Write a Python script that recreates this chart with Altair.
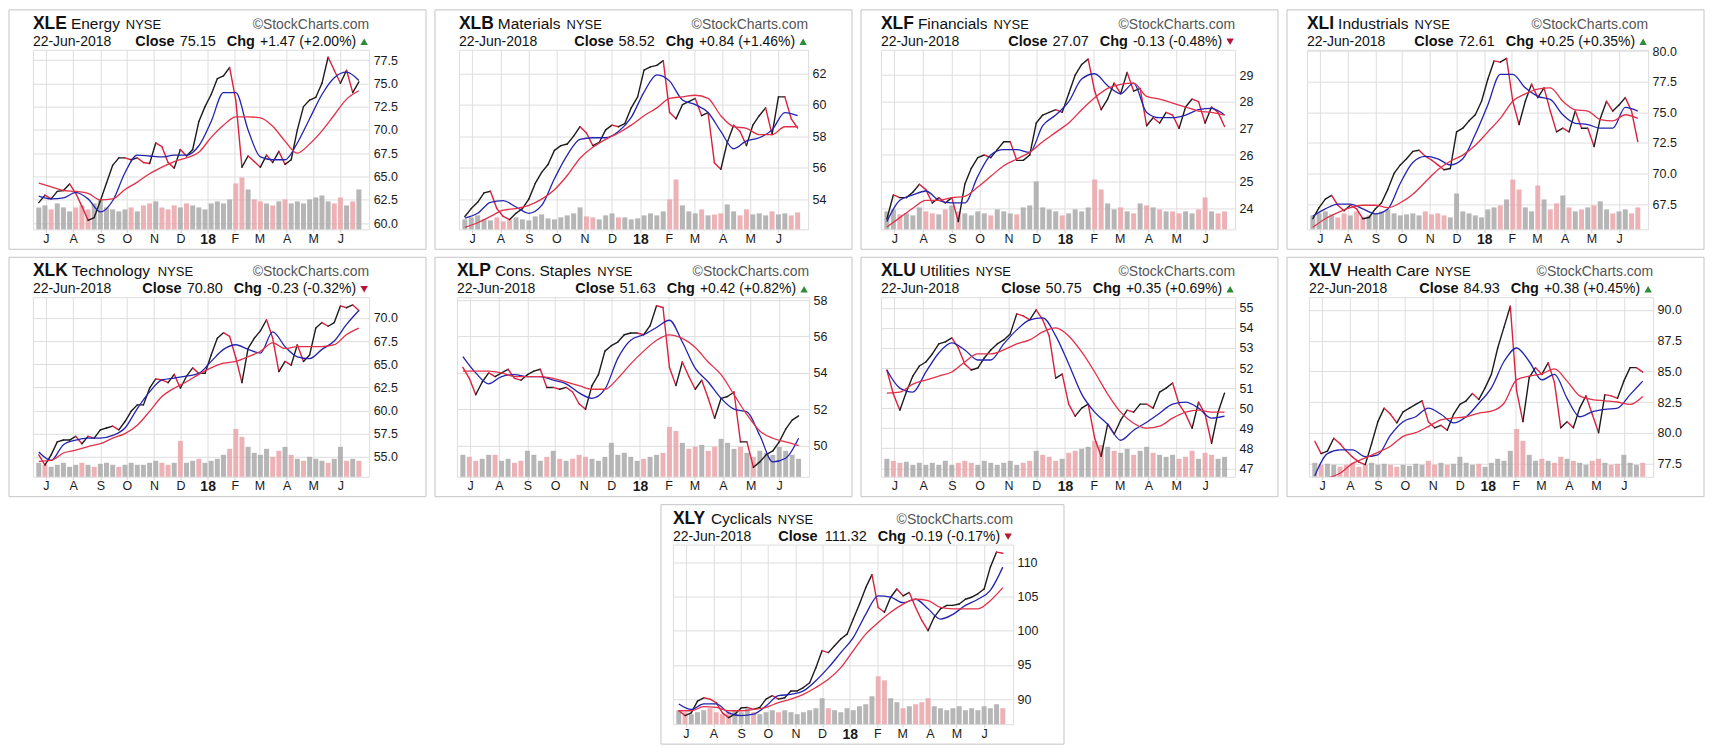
import altair as alt
import pandas as pd

# ---------------- data ----------------
dates = ["2017-06-23","2017-06-30","2017-07-07","2017-07-14","2017-07-21","2017-07-28",
         "2017-08-04","2017-08-11","2017-08-18","2017-08-25","2017-09-01","2017-09-08",
         "2017-09-15","2017-09-22","2017-09-29","2017-10-06","2017-10-13","2017-10-20",
         "2017-10-27","2017-11-03","2017-11-10","2017-11-17","2017-11-24","2017-12-01",
         "2017-12-08","2017-12-15","2017-12-22","2017-12-29","2018-01-05","2018-01-12",
         "2018-01-19","2018-01-26","2018-02-02","2018-02-09","2018-02-16","2018-02-23",
         "2018-03-02","2018-03-09","2018-03-16","2018-03-23","2018-03-30","2018-04-06",
         "2018-04-13","2018-04-20","2018-04-27","2018-05-04","2018-05-11","2018-05-18",
         "2018-05-25","2018-06-01","2018-06-08","2018-06-15","2018-06-22"]
ma_dates = dates[::2]
month_starts = [(2017, 7), (2017, 8), (2017, 9), (2017, 10), (2017, 11), (2017, 12),
                (2018, 1), (2018, 2), (2018, 3), (2018, 4), (2018, 5), (2018, 6)]

tickers = ["XLE", "XLB", "XLF", "XLI", "XLK", "XLP", "XLU", "XLV", "XLY"]
sectors = ["Energy", "Materials", "Financials", "Industrials", "Technology",
           "Cons. Staples", "Utilities", "Health Care", "Cyclicals"]
closes = ["75.15", "58.52", "27.07", "72.61", "70.80", "51.63", "50.75", "84.93", "111.32"]
changes = ["+1.47 (+2.00%)", "+0.84 (+1.46%)", "-0.13 (-0.48%)", "+0.25 (+0.35%)",
           "-0.23 (-0.32%)", "+0.42 (+0.82%)", "+0.35 (+0.69%)", "+0.38 (+0.45%)",
           "-0.19 (-0.17%)"]
change_dirs = ["up", "up", "down", "up", "down", "up", "up", "up", "down"]
date_label = "22-Jun-2018"

price_xle = [62.2,63.0,62.6,63.4,63.5,64.2,63.2,61.8,60.3,60.6,62.4,64.3,66.2,67.0,67.0,66.8,67.0,66.5,
             66.4,68.6,68.2,66.5,65.9,67.9,67.2,67.9,70.9,72.5,73.8,75.5,75.8,76.7,73.2,66.0,67.2,66.6,
             66.0,67.3,66.5,67.7,66.3,66.8,70.0,72.5,73.2,73.5,75.0,77.8,76.4,75.0,76.4,74.0,75.15]
ma20_xle = [62.9,62.6,62.7,63.3,62.6,61.2,62.4,65.4,67.3,67.2,67.1,67.3,67.3,68.3,70.9,74.0,74.0,70.0,
            67.1,66.8,66.8,68.6,71.2,73.8,75.6,76.2,75.3]
ma50_xle = [64.3,63.9,63.5,63.4,63.2,62.5,62.6,63.6,64.4,65.3,66.0,66.6,67.0,67.6,69.2,70.5,71.4,71.4,
            71.3,70.4,68.8,67.5,68.5,69.9,71.6,73.3,74.2]
vol_xle = [22,24,20,26,22,18,22,24,20,26,30,22,20,18,20,22,18,24,26,28,22,20,24,22,26,24,22,20,26,28,
           26,30,46,52,40,30,28,26,24,28,30,26,28,26,30,32,34,28,26,32,24,28,40]

price_xlb = [52.9,53.4,53.8,54.4,54.5,53.4,52.9,52.7,53.1,53.4,54.0,55.0,55.7,56.2,57.1,57.4,57.5,58.0,
             58.6,58.2,57.4,57.6,58.4,58.7,58.6,58.8,59.8,60.5,62.2,62.4,62.5,62.8,59.5,59.1,60.0,60.2,
             60.4,59.3,59.5,56.3,55.9,57.6,58.7,58.3,57.4,58.7,59.3,59.8,58.1,60.5,60.5,59.1,58.52]
ma20_xlb = [52.8,53.1,53.8,53.9,53.5,53.1,53.6,55.3,56.8,57.8,57.9,57.9,58.3,59.2,60.8,61.9,61.5,60.3,
            60.0,59.5,58.3,57.2,57.7,57.9,58.4,59.5,59.3]
ma50_xlb = [52.2,52.5,52.9,53.3,53.4,53.6,54.0,54.6,55.5,56.6,57.3,57.8,58.2,58.7,59.3,59.8,60.4,60.5,
            60.6,60.4,59.3,58.6,58.5,58.1,58.1,58.6,58.6]
vol_xlb = [10,12,14,10,9,12,8,10,12,10,9,13,15,11,10,12,14,16,22,13,12,10,14,16,12,12,10,11,14,16,
           14,18,30,50,24,18,16,20,14,15,16,25,18,14,20,15,16,14,18,15,16,14,17]

price_xlf = [23.6,24.5,24.4,24.4,24.6,24.9,24.7,24.2,24.4,24.2,24.4,23.5,24.9,25.5,25.9,26.0,25.9,26.2,
             26.5,26.5,25.8,25.8,26.0,27.2,27.5,27.6,27.7,27.6,28.3,29.0,29.4,29.6,28.4,27.7,28.1,28.7,
             28.3,29.1,28.4,28.5,27.1,27.4,27.2,27.6,27.5,27.0,27.8,28.1,28.0,27.2,27.8,27.6,27.07]
ma20_xlf = [23.5,24.3,24.5,24.65,24.3,24.2,24.2,25.2,26.0,26.2,26.2,26.1,27.1,27.5,28.0,28.85,29.05,28.6,
            28.3,28.7,27.6,27.4,27.4,27.5,27.7,27.75,27.5]
ma50_xlf = [23.3,23.65,24.0,24.3,24.3,24.4,24.45,24.8,25.2,25.6,25.85,26.1,26.5,26.85,27.2,27.7,28.15,
            28.5,28.65,28.7,28.2,28.1,27.95,27.8,27.65,27.6,27.5]
vol_xlf = [18,20,15,16,14,22,18,16,15,20,24,18,16,14,18,16,14,20,18,16,15,22,24,48,22,20,18,14,16,20,
           18,22,50,40,26,20,22,18,16,26,24,22,20,18,18,16,18,16,20,32,18,16,18]

price_xli = [66.3,67.2,67.9,68.2,67.4,66.95,67.4,67.1,66.3,66.4,67.1,67.6,68.7,70.0,70.7,71.2,71.8,71.9,
             71.4,71.1,70.7,70.3,70.4,73.4,73.7,74.3,74.8,75.9,77.7,79.2,79.1,79.4,75.9,74.0,75.9,77.3,
             76.2,77.0,75.1,73.4,73.7,73.4,75.1,73.7,73.7,72.2,74.5,75.9,75.1,75.6,76.2,75.1,72.61]
ma20_xli = [66.5,67.1,67.5,67.5,67.1,66.7,67.1,69.2,70.9,71.4,71.2,70.7,71.2,73.2,75.6,78.1,78.1,77.0,
            76.3,76.05,74.8,74.1,74.0,73.7,73.7,75.4,75.1]
ma50_xli = [65.6,66.3,66.8,67.2,67.4,67.4,67.2,67.6,68.3,69.3,70.3,71.0,71.5,72.3,73.4,74.5,75.9,76.5,
            76.9,77.0,75.9,75.2,75.1,74.4,74.3,74.8,74.5]
vol_xli = [14,16,18,15,12,16,14,18,12,14,16,18,20,16,14,15,16,14,18,15,16,14,12,36,18,16,14,12,20,22,
           24,30,50,40,22,18,44,30,20,26,34,22,18,20,22,24,28,20,16,18,20,16,22]

price_xlk = [55.2,54.1,55.2,56.6,56.8,56.8,57.2,56.4,57.2,57.0,57.9,58.1,58.3,57.9,58.8,59.9,60.6,60.6,
             62.4,63.4,63.3,63.0,63.9,62.4,63.7,64.6,64.0,64.0,66.0,67.8,68.4,68.0,65.7,63.0,66.7,67.8,
             68.6,69.8,67.8,64.2,65.3,64.9,67.1,65.3,66.0,68.9,69.5,69.1,69.5,71.3,71.1,71.4,70.8]
ma20_xlk = [55.5,54.6,56.3,56.8,57.0,57.0,57.3,58.1,60.2,62.0,63.3,63.5,63.7,64.0,65.3,66.6,67.1,66.6,
            66.2,68.5,66.9,65.8,65.6,66.6,67.5,69.3,70.8]
ma50_xlk = [54.5,54.6,55.4,55.7,56.1,56.4,57.0,57.5,58.4,59.9,61.5,62.4,63.1,63.9,64.6,65.1,65.3,65.8,
            66.4,67.3,66.7,66.9,66.9,66.9,67.1,68.2,68.9]
vol_xlk = [14,12,10,12,14,10,12,14,12,10,13,14,12,10,12,14,12,12,14,16,14,12,14,36,14,16,18,14,16,18,
           22,28,48,40,30,24,22,28,20,26,30,22,18,16,20,18,16,14,18,30,16,18,16]

price_xlp = [54.3,53.7,52.8,53.5,54.0,53.8,54.0,54.2,53.7,53.6,53.9,54.1,54.2,53.2,53.2,53.1,53.2,52.95,
             52.3,52.0,53.3,53.9,55.2,55.5,55.7,56.1,56.2,56.2,56.1,56.6,57.7,57.6,54.3,53.3,54.6,53.8,
             53.1,53.6,52.6,51.5,52.6,52.7,52.95,50.2,50.2,48.8,49.1,49.5,49.7,50.2,50.9,51.4,51.63]
ma20_xlp = [54.9,54.0,53.4,53.8,53.9,53.8,53.8,53.6,53.4,52.9,52.6,53.1,54.8,55.8,56.1,56.5,56.9,55.7,
            54.25,53.5,52.6,52.0,51.85,50.55,49.1,49.3,50.4]
ma50_xlp = [54.1,54.1,54.1,54.0,53.8,53.8,53.8,53.7,53.5,53.3,53.1,53.1,53.7,54.5,55.2,55.8,56.1,55.9,
            55.4,54.6,53.9,52.8,51.7,50.8,50.4,50.2,50.0]
vol_xlp = [22,20,16,18,22,22,16,18,14,16,26,22,16,20,26,18,16,18,22,20,18,16,20,34,22,24,20,16,18,20,
           22,24,50,46,34,28,30,32,26,30,38,34,28,30,24,20,26,24,22,30,26,22,18]

price_xlu = [51.9,50.7,49.9,50.8,51.6,52.1,52.3,52.7,53.2,53.3,53.5,53.0,52.2,51.9,52.0,52.5,52.9,53.2,
             53.4,53.7,54.7,54.6,54.4,54.9,54.4,53.6,51.5,51.7,50.2,49.6,50.0,50.2,48.5,47.6,49.2,48.7,
             49.4,49.9,49.8,50.2,50.2,50.0,50.8,51.0,51.25,50.2,49.7,49.0,50.3,49.7,48.25,49.8,50.75]
ma20_xlu = [51.9,51.0,50.8,51.8,52.75,53.25,52.9,52.4,52.4,53.2,53.9,54.4,54.5,53.6,52.2,50.7,49.8,49.2,
            48.4,48.9,49.3,49.75,50.2,50.3,50.0,49.5,49.6]
ma50_xlu = [50.75,50.8,51.2,51.4,51.6,51.8,52.3,52.7,52.7,52.9,53.2,53.4,53.8,54.0,53.6,52.8,51.8,50.7,
            49.8,49.25,49.0,49.1,49.5,49.8,49.9,49.8,49.8]
vol_xlu = [18,16,14,15,12,14,12,14,12,16,12,14,16,14,12,16,14,12,14,16,12,14,16,26,22,20,16,18,24,26,
           28,30,36,32,30,26,24,28,22,26,30,24,22,20,22,18,20,26,18,24,22,18,20]

price_xlv = [79.3,78.3,78.5,79.55,79.1,78.5,78.0,77.6,77.4,79.1,80.9,82.0,81.5,80.8,81.7,82.0,82.3,82.6,
             80.9,80.4,80.6,80.2,81.5,82.3,82.6,83.2,82.7,83.65,84.75,86.9,88.6,90.3,83.4,80.9,84.5,85.3,
             84.75,85.7,84.1,80.4,80.9,80.4,82.0,83.0,81.5,80.0,83.1,83.0,82.8,84.2,85.3,85.3,84.93]
ma20_xlv = [76.5,78.3,78.6,78.6,78.05,78.2,79.8,80.9,81.3,82.0,81.5,80.8,81.3,82.4,83.65,85.8,86.9,85.8,
            84.3,84.75,82.8,81.3,81.7,81.9,82.0,83.1,84.2]
ma50_xlv = [76.0,76.3,76.7,77.5,77.95,78.4,78.9,79.7,80.0,80.5,81.05,81.2,81.3,81.6,81.75,82.4,84.3,84.6,
            84.8,85.2,84.2,83.0,82.7,82.6,82.5,82.3,82.95]
vol_xlv = [14,12,13,12,10,12,14,10,12,14,12,13,12,10,12,11,13,12,16,12,14,12,13,20,14,12,13,10,14,18,
           16,26,48,36,22,16,18,16,14,20,18,16,14,12,16,18,14,12,13,22,14,12,14]

price_xly = [88.3,87.6,88.0,89.7,90.2,90.0,89.5,88.0,87.3,87.8,88.7,88.8,88.5,88.8,90.0,90.5,90.0,90.2,
             91.2,91.2,91.7,92.4,94.6,97.1,96.8,97.8,98.8,99.5,101.7,103.9,106.3,108.2,103.4,102.7,104.9,
             106.1,105.1,105.6,103.4,101.5,100.0,102.0,103.2,103.7,103.7,103.9,104.6,104.9,105.4,106.1,
             109.3,111.5,111.32]
ma20_xly = [89.3,88.5,89.3,89.3,88.0,87.6,87.8,89.0,90.5,90.7,91.2,92.7,94.6,96.8,99.0,102.4,105.1,104.9,
            104.1,104.6,103.2,101.7,102.4,103.7,104.6,105.9,109.3]
ma50_xly = [88.3,88.3,88.9,88.8,88.3,88.3,88.5,88.8,89.5,90.0,90.7,91.7,92.9,94.6,97.1,99.5,101.2,102.7,
            103.9,104.6,104.4,103.4,103.2,103.2,103.2,104.4,106.3]
vol_xly = [14,12,10,12,14,16,12,10,12,14,12,16,12,10,12,14,12,14,12,10,12,14,16,26,16,14,12,16,14,18,
           20,28,48,44,26,22,16,18,20,22,26,18,16,14,16,18,14,16,14,18,16,20,16]

# price-axis domains and tick labels per panel
ydom_xle, yticks_xle = [59.33, 78.6], [60, 62.5, 65, 67.5, 70, 72.5, 75, 77.5]
ydom_xlb, yticks_xlb = [52.08, 63.49], [54, 56, 58, 60, 62]
ydom_xlf, yticks_xlf = [23.21, 29.95], [24, 25, 26, 27, 28, 29]
ydom_xli, yticks_xli = [65.43, 80.11], [67.5, 70, 72.5, 75, 77.5, 80]
ydom_xlk, yticks_xlk = [52.83, 72.24], [55, 57.5, 60, 62.5, 65, 67.5, 70]
ydom_xlp, yticks_xlp = [48.28, 58.17], [50, 52, 54, 56, 58]
ydom_xlu, yticks_xlu = [46.58, 55.53], [47, 48, 49, 50, 51, 52, 53, 54, 55]
ydom_xlv, yticks_xlv = [76.41, 91.04], [77.5, 80, 82.5, 85, 87.5, 90]
ydom_xly, yticks_xly = [86.34, 112.59], [90, 95, 100, 105, 110]

# ---------------- styling ----------------
FONT = "Liberation Sans"
UP_COL = "#1c1c1c"
DOWN_COL = "#d9203f"
MA_BLUE = "#2323b0"
MA_RED = "#e23049"
VOL_GRAY = "#a9a9a9"
VOL_RED = "#e9a5a9"
GRID = "#dedede"
FRAME = "#aaaaaa"
BORDER = "#c4c4c4"
H = 180

REG = {" ": 278, ".": 278, "-": 333, "+": 584, "(": 333, ")": 333, "%": 889,
       "a": 556, "b": 556, "c": 500, "d": 556, "e": 556, "f": 278, "g": 556, "h": 556,
       "i": 222, "j": 222, "k": 500, "l": 222, "m": 833, "n": 556, "o": 556, "p": 556,
       "q": 556, "r": 333, "s": 500, "t": 278, "u": 556, "v": 500, "w": 722, "x": 500,
       "y": 500, "z": 500, "C": 722, "E": 667, "F": 611, "H": 722, "I": 278, "M": 833,
       "S": 667, "T": 611, "U": 722, "N": 722, "Y": 667}
BOLD = {"X": 667, "L": 611, "E": 667, "B": 722, "F": 611, "I": 278, "K": 722, "P": 667,
        "U": 722, "V": 667, "Y": 667, "C": 722, "h": 611, "g": 611, "l": 278, "o": 611,
        "s": 556, "e": 556}


def tw(s, size, bold=False):
    tbl = BOLD if bold else REG
    return sum(tbl.get(c, 556) for c in s) * size / 1000.0


X_DOMAIN = [alt.DateTime(year=2017, month=6, date=22, utc=True),
            alt.DateTime(year=2018, month=6, date=28, utc=True)]
X_TICKS = [alt.DateTime(year=y, month=m, date=1, utc=True) for y, m in month_starts]

xaxis = alt.Axis(
    values=X_TICKS, title=None, grid=True, gridColor=GRID, domain=False,
    ticks=True, tickSize=3, tickColor="#cfcfcf", labelPadding=0,
    labelAngle=0, labelOverlap=False, labelFlush=False, labelColor="#1a1a1a",
    labelFont=FONT,
    labelExpr="utcmonth(datum.value) == 0 ? '18' : substring(utcFormat(datum.value, '%b'), 0, 1)",
    labelFontWeight={"condition": {"test": "utcmonth(datum.value) == 0", "value": "bold"}, "value": "normal"},
    labelFontSize={"condition": {"test": "utcmonth(datum.value) == 0", "value": 14}, "value": 12.5},
)


def text_layer(one, txt, x, y, size, bold=False, align="left", color="#111111"):
    return alt.Chart(one).mark_text(
        text=txt, align=align, baseline="alphabetic", font=FONT, fontSize=size,
        fontWeight="bold" if bold else "normal", color=color
    ).encode(x=alt.value(x), y=alt.value(y))


def make_panel(i, price, ma20, ma50, vol, ydom, yticks, yfmt, L, W, R):
    n = len(dates)
    dirs = ["up"] + ["down" if price[k] < price[k - 1] else "up" for k in range(1, n)]
    base = pd.DataFrame({"date": dates, "vol": vol, "dir": dirs})
    seg = pd.DataFrame({"date": dates[:-1], "date2": dates[1:],
                        "y": price[:-1], "y2": price[1:], "dir": dirs[1:]})
    ma = pd.DataFrame({"date": ma_dates, "ma20": ma20, "ma50": ma50})
    one = pd.DataFrame({"k": [0]})

    xs = alt.Scale(type="utc", domain=X_DOMAIN)
    X = alt.X("date:T", scale=xs, axis=xaxis)
    ys = alt.Scale(domain=ydom, zero=False, nice=False)
    yaxis = alt.Axis(orient="right", values=yticks, format=yfmt, title=None, grid=True,
                     gridColor=GRID, domain=False, ticks=False, tickSize=0, labelPadding=4,
                     labelFontSize=12.5, labelFont=FONT, labelColor="#1a1a1a")

    border = alt.Chart(one).mark_rect(fillOpacity=0, stroke=BORDER, strokeWidth=1).encode(
        x=alt.value(-L), x2=alt.value(W + R), y=alt.value(-40), y2=alt.value(H + 20))

    vols = alt.Chart(base).mark_bar(width=5, opacity=0.85).encode(
        x=X,
        y=alt.Y("vol:Q", scale=alt.Scale(domain=[0, H]), axis=None),
        color=alt.condition("datum.dir == 'down'", alt.value(VOL_RED), alt.value(VOL_GRAY)))

    segs = alt.Chart(seg).mark_rule(strokeWidth=1.4, strokeCap="round").encode(
        x=X, x2=alt.X2("date2:T"),
        y=alt.Y("y:Q", scale=ys, axis=yaxis), y2=alt.Y2("y2:Q"),
        color=alt.condition("datum.dir == 'down'", alt.value(DOWN_COL), alt.value(UP_COL)))

    blue = alt.Chart(ma).mark_line(color=MA_BLUE, strokeWidth=1.3, clip=True,
                                   interpolate="monotone").encode(
        x=X, y=alt.Y("ma20:Q", scale=ys, axis=None))
    red = alt.Chart(ma).mark_line(color=MA_RED, strokeWidth=1.3, clip=True,
                                  interpolate="monotone").encode(
        x=X, y=alt.Y("ma50:Q", scale=ys, axis=None))

    tk, sec = tickers[i], sectors[i]
    x_sec = tw(tk, 17.5, True) + 4
    x_ny = x_sec + tw(sec, 15.5) + 6
    chg, cls = changes[i], closes[i]
    xr = W - 13
    x_chg_lbl = xr - tw(chg, 14) - 5
    x_close = x_chg_lbl - tw("Chg", 14.5, True) - 11
    x_close_lbl = x_close - tw(cls, 14.5) - 5

    texts = [
        text_layer(one, tk, 0, -21, 17.5, bold=True),
        text_layer(one, sec, x_sec, -21, 15.5),
        text_layer(one, "NYSE", x_ny, -21, 13),
        text_layer(one, "\u00a9StockCharts.com", W, -21, 14, align="right", color="#555555"),
        text_layer(one, date_label, 0, -4, 14),
        text_layer(one, "Close", x_close_lbl, -4, 14.5, bold=True, align="right"),
        text_layer(one, cls, x_close, -4, 14.5, align="right"),
        text_layer(one, "Chg", x_chg_lbl, -4, 14.5, bold=True, align="right"),
        text_layer(one, chg, xr, -4, 14, align="right"),
    ]
    up = change_dirs[i] == "up"
    tri = alt.Chart(one).mark_point(
        shape="triangle-up" if up else "triangle-down", filled=True, size=55, opacity=1,
        color="#2e8b3a" if up else "#b3173b").encode(x=alt.value(W - 5), y=alt.value(-8))

    return alt.layer(border, vols, segs, blue, red, *texts, tri).resolve_scale(
        y="independent").properties(width=W, height=H)


p_xle = make_panel(0, price_xle, ma20_xle, ma50_xle, vol_xle, ydom_xle, yticks_xle, ".1f", 24, 337, 57)
p_xlb = make_panel(1, price_xlb, ma20_xlb, ma50_xlb, vol_xlb, ydom_xlb, yticks_xlb, "d", 24, 350, 44)
p_xlf = make_panel(2, price_xlf, ma20_xlf, ma50_xlf, vol_xlf, ydom_xlf, yticks_xlf, "d", 20, 355, 43)
p_xli = make_panel(3, price_xli, ma20_xli, ma50_xli, vol_xli, ydom_xli, yticks_xli, ".1f", 20, 342, 56)
p_xlk = make_panel(4, price_xlk, ma20_xlk, ma50_xlk, vol_xlk, ydom_xlk, yticks_xlk, ".1f", 24, 337, 57)
p_xlp = make_panel(5, price_xlp, ma20_xlp, ma50_xlp, vol_xlp, ydom_xlp, yticks_xlp, "d", 22, 353, 43)
p_xlu = make_panel(6, price_xlu, ma20_xlu, ma50_xlu, vol_xlu, ydom_xlu, yticks_xlu, "d", 20, 355, 43)
p_xlv = make_panel(7, price_xlv, ma20_xlv, ma50_xlv, vol_xlv, ydom_xlv, yticks_xlv, ".1f", 22, 345, 51)
p_xly = make_panel(8, price_xly, ma20_xly, ma50_xly, vol_xly, ydom_xly, yticks_xly, "d", 12, 341, 51)

row1 = alt.hconcat(p_xle, p_xlb, p_xlf, p_xli, spacing=7)
row2 = alt.hconcat(p_xlk, p_xlp, p_xlu, p_xlv, spacing=7)

chart = alt.vconcat(row1, row2, p_xly, spacing=6, center=True).properties(
    padding={"left": 0, "top": 0, "right": 0, "bottom": 0},
    background="white",
).configure_view(stroke=FRAME, strokeWidth=1).configure(font=FONT)

chart.save("out.html", embed_options={"renderer": "svg", "actions": False})
